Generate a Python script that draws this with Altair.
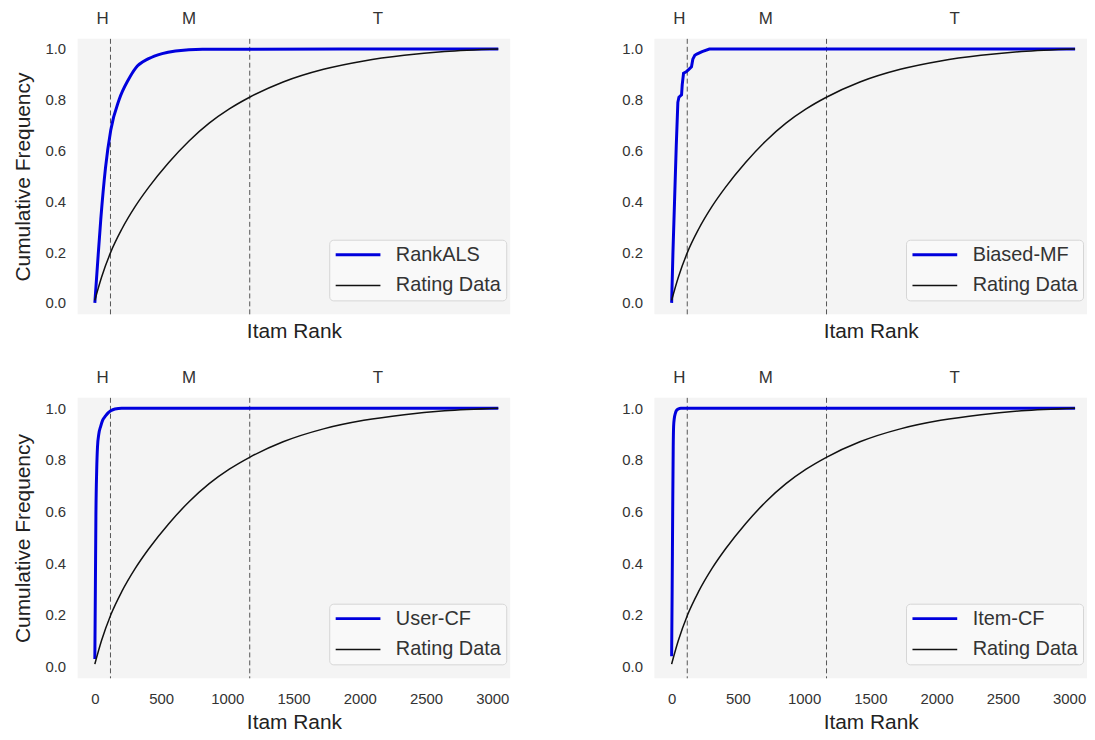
import altair as alt
import pandas as pd

# ---- data ----
rating_rank = [0, 50, 120, 203, 305, 406, 558, 711, 863, 1015, 1168, 1421, 1726, 2030, 2335, 2640, 3045]
rating_freq = [0.01, 0.10, 0.20, 0.29, 0.38, 0.455, 0.553, 0.638, 0.708, 0.764, 0.81, 0.87, 0.92, 0.953, 0.975, 0.99, 1.0]

models = ["RankALS", "Biased-MF", "User-CF", "Item-CF"]

rankals_rank = [0, 20, 45, 80, 120, 183, 254, 308, 406, 508, 609, 812, 3045]
rankals_freq = [0.0, 0.15, 0.33, 0.53, 0.68, 0.80, 0.88, 0.925, 0.962, 0.982, 0.992, 0.999, 1.0]

biasedmf_rank = [0, 10, 22, 35, 47, 55, 75, 80, 90, 110, 130, 150, 160, 175, 190, 230, 285, 3045]
biasedmf_freq = [0.0, 0.2, 0.4, 0.62, 0.79, 0.81, 0.82, 0.86, 0.905, 0.91, 0.92, 0.93, 0.96, 0.975, 0.98, 0.99, 1.0, 1.0]

usercf_rank = [0, 4, 8, 14, 20, 30, 44, 60, 81, 100, 120, 152, 203, 3045]
usercf_freq = [0.03, 0.3, 0.58, 0.76, 0.85, 0.9, 0.93, 0.955, 0.97, 0.982, 0.99, 0.997, 1.0, 1.0]

itemcf_rank = [0, 4, 8, 12, 15, 20, 28, 35, 50, 70, 3045]
itemcf_freq = [0.04, 0.3, 0.6, 0.85, 0.93, 0.96, 0.98, 0.99, 0.997, 1.0, 1.0]

model_ranks = [rankals_rank, biasedmf_rank, usercf_rank, itemcf_rank]
model_freqs = [rankals_freq, biasedmf_freq, usercf_freq, itemcf_freq]
model_interp = ["monotone", "linear", "monotone", "monotone"]

segment_bounds = [118, 1169]
segment_labels = ["H", "M", "T"]
segment_label_pos = [58, 711, 2136]

x_ticks = [0, 500, 1000, 1500, 2000, 2500, 3000]
y_ticks = [0.0, 0.2, 0.4, 0.6, 0.8, 1.0]

FONT = "Liberation Sans"
W = 435
XDOM = [-130, 3135]
YDOM = [-0.045, 1.04]


def panel(i, left, bottom):
    h = 282 if bottom else 277
    model = models[i]
    df_model = pd.DataFrame({"rank": model_ranks[i], "freq": model_freqs[i], "series": model})
    df_rating = pd.DataFrame({"rank": rating_rank, "freq": rating_freq, "series": "Rating Data"})
    df_bounds = pd.DataFrame({"rank": segment_bounds})
    df_labels = pd.DataFrame({"rank": segment_label_pos, "label": segment_labels})
    domain = [model, "Rating Data"]

    leg = alt.Legend(
        orient="none", legendX=253, legendY=h - 75, title=None,
        symbolType="stroke", symbolSize=2025, labelFontSize=20, labelFont=FONT,
        labelColor="#333333", labelOffset=14, fillColor="#f9f9f9",
        strokeColor="#d6d6d6", cornerRadius=4, padding=5, rowPadding=11,
        clipHeight=20,
    )
    color = alt.Color("series:N", scale=alt.Scale(domain=domain, range=["#0000dd", "#111111"]), legend=leg, title=None)
    sw = alt.StrokeWidth("series:N", scale=alt.Scale(domain=domain, range=[3, 1.5]), legend=leg, title=None)

    xaxis = alt.Axis(title="Itam Rank", labels=bottom, values=x_ticks, format="d",
                     titlePadding=5 if bottom else 6, labelPadding=13)
    if left:
        yaxis = alt.Axis(title="Cumulative Frequency", values=y_ticks, format=".1f", labelPadding=12, titlePadding=12)
    else:
        yaxis = alt.Axis(title=None, values=y_ticks, format=".1f", labelPadding=12)

    xscale = alt.Scale(domain=XDOM, nice=False, zero=False)
    x = alt.X("rank:Q", scale=xscale, axis=xaxis)
    y = alt.Y("freq:Q", scale=alt.Scale(domain=YDOM, nice=False, zero=False), axis=yaxis)

    rules = alt.Chart(df_bounds).mark_rule(strokeDash=[5, 3], color="#555555", strokeWidth=1).encode(
        x=alt.X("rank:Q", scale=xscale, axis=xaxis))
    texts = alt.Chart(df_labels).mark_text(fontSize=17, font=FONT, color="#333333", baseline="middle").encode(
        x=alt.X("rank:Q", scale=xscale, axis=xaxis),
        y=alt.value(-20), text="label:N")
    blue = alt.Chart(df_model).mark_line(interpolate=model_interp[i]).encode(x=x, y=y, color=color, strokeWidth=sw)
    black = alt.Chart(df_rating).mark_line(interpolate="monotone").encode(x=x, y=y, color=color, strokeWidth=sw)
    return alt.layer(rules, blue, black, texts).properties(width=W, height=h)


def row(a, b):
    return alt.hconcat(a, b, spacing=112).resolve_scale(
        color="independent", strokeWidth="independent").resolve_legend(
        color="independent", strokeWidth="independent")


row1 = row(panel(0, True, False), panel(1, False, False))
row2 = row(panel(2, True, True), panel(3, False, True))

chart = alt.vconcat(row1, row2, spacing=28).resolve_scale(
    color="independent", strokeWidth="independent").resolve_legend(
    color="independent", strokeWidth="independent").properties(
    padding={"left": 4, "top": 0, "right": 0, "bottom": 0}
).configure(background="white").configure_view(fill="#f4f4f4", stroke=None).configure_axis(
    grid=False, ticks=False, tickSize=0, domain=False,
    labelFont=FONT, labelFontSize=15, labelColor="#333333",
    titleFont=FONT, titleFontSize=21, titleColor="#222222", titleFontWeight="normal",
)

chart.save("out.html", embed_options={"renderer": "svg", "actions": False})
